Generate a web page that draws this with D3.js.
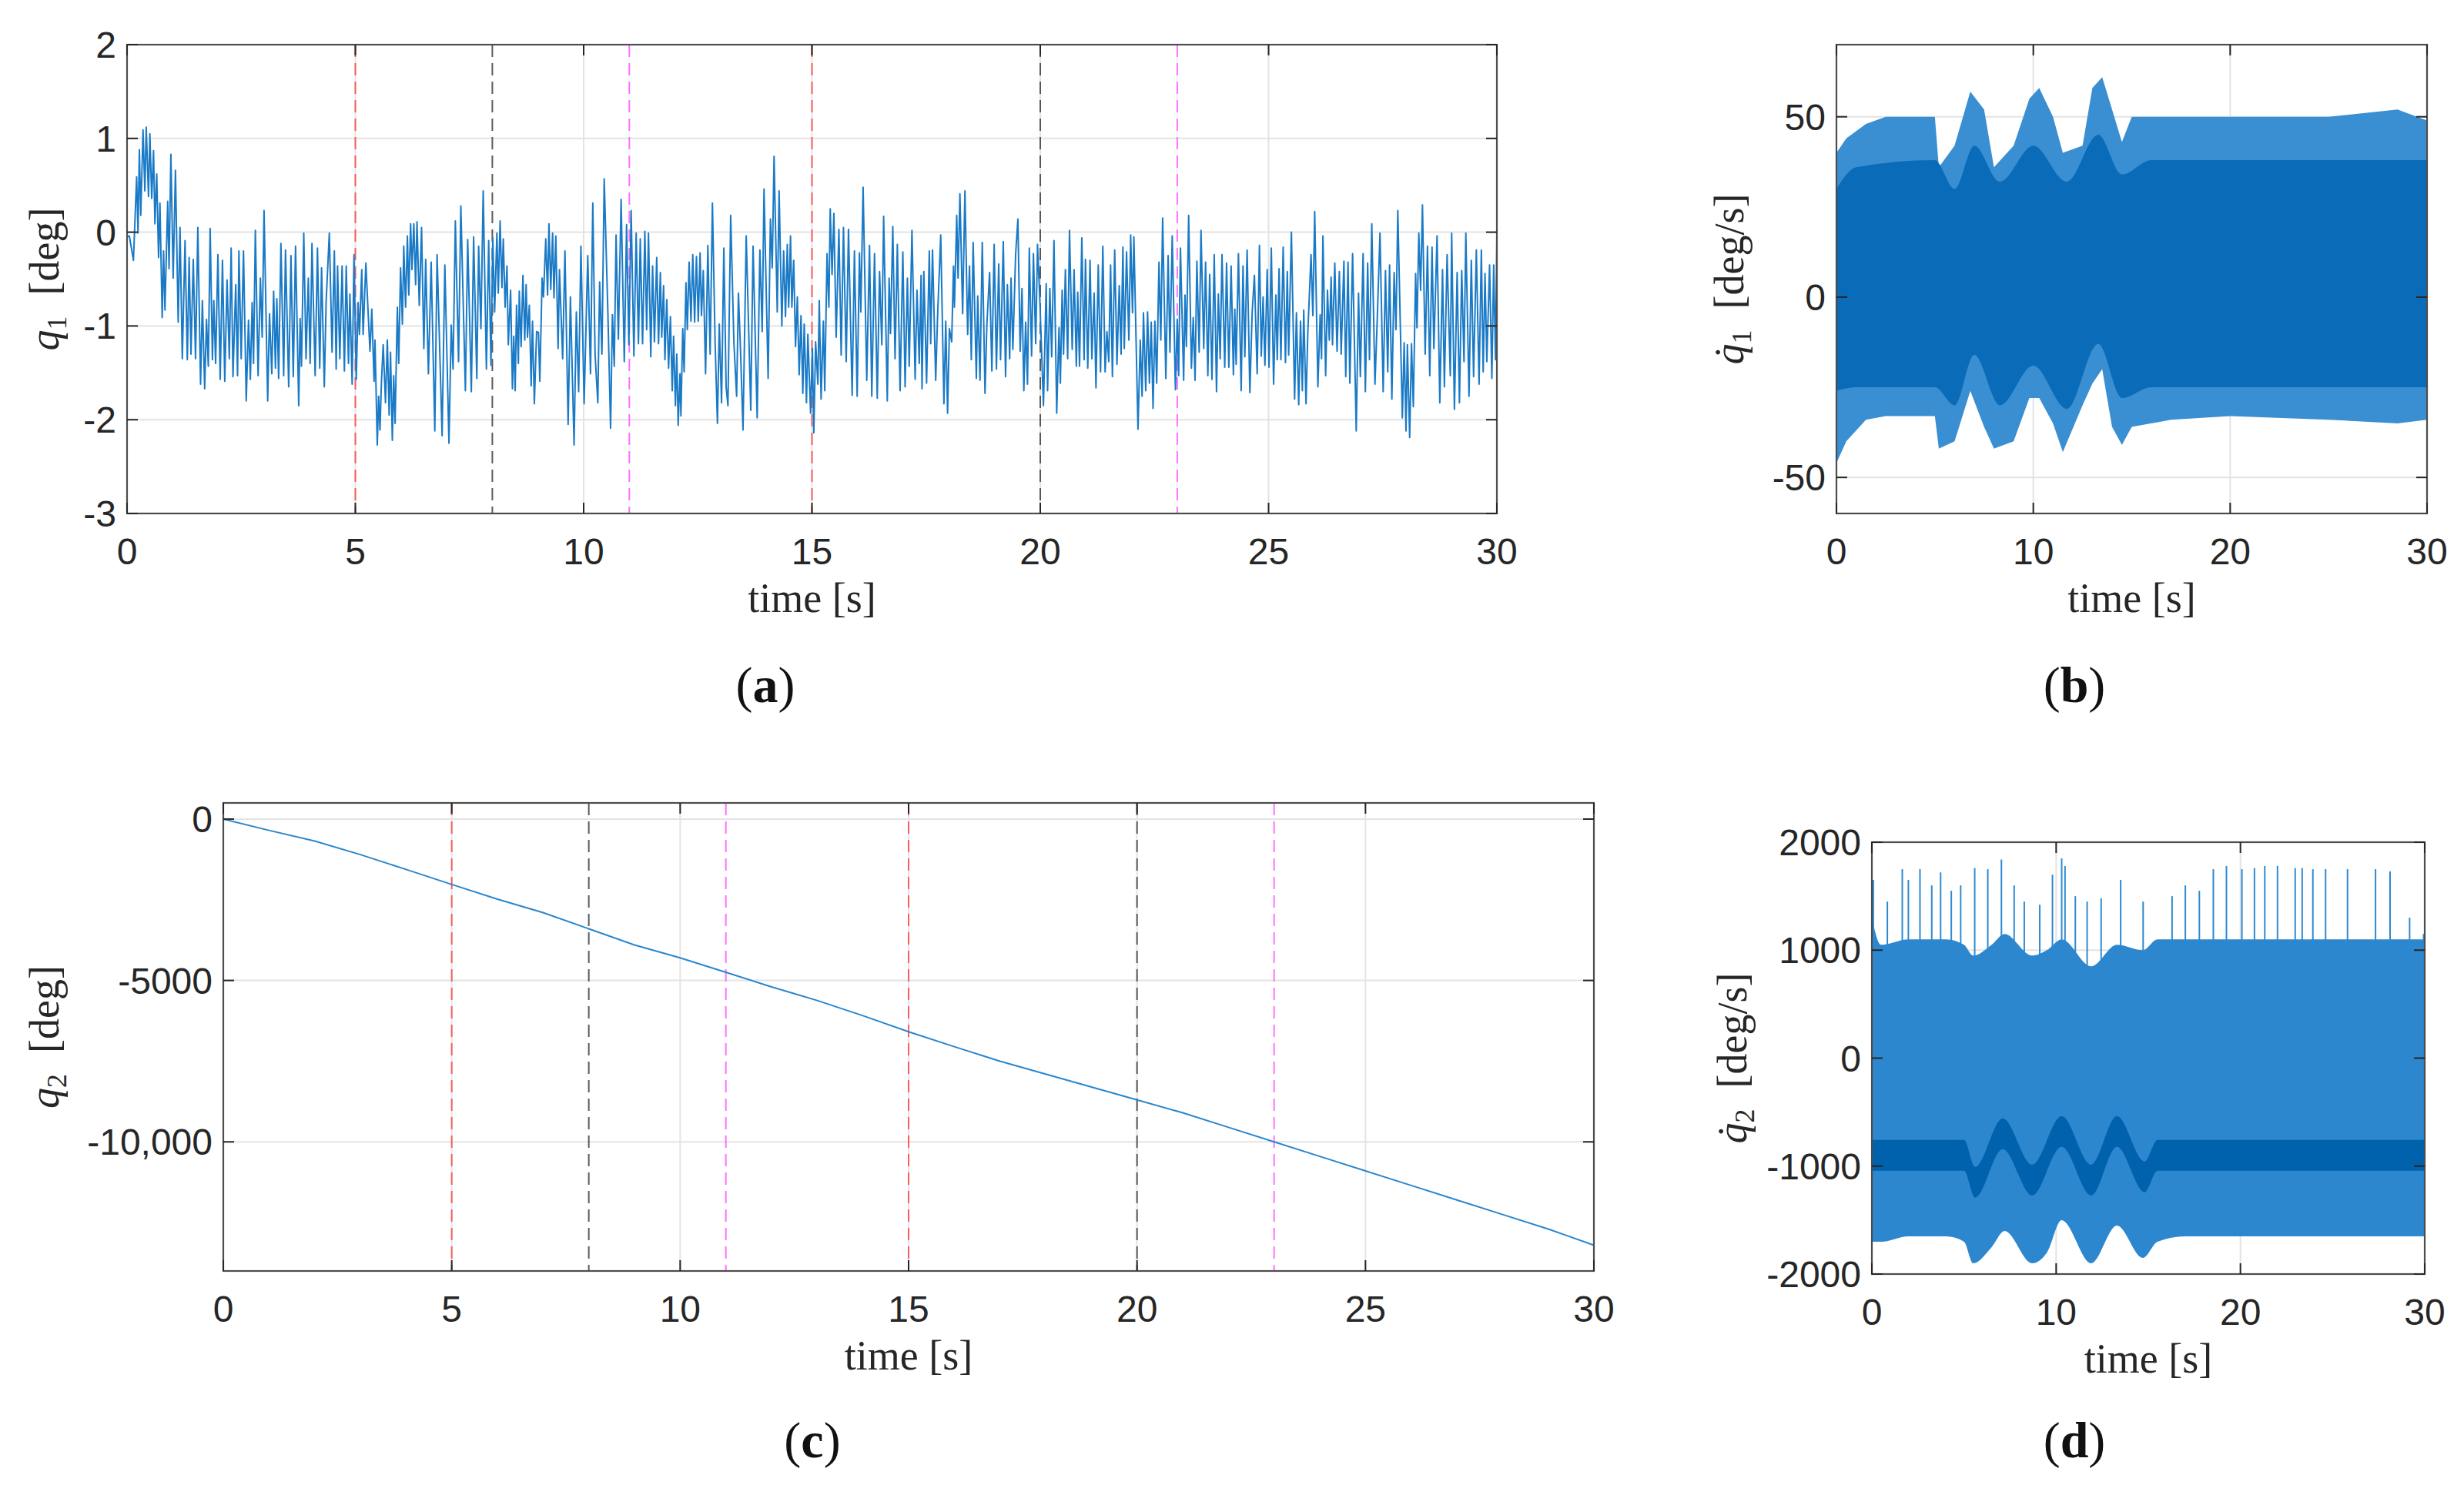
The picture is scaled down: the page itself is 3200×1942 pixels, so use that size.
<!DOCTYPE html>
<html>
<head>
<meta charset="utf-8">
<script src="https://cdn.jsdelivr.net/npm/d3@7"></script>
<style>
body { margin: 0; background: #fff; }
svg { display: block; }
</style>
</head>
<body>
<svg id="fig" width="3200" height="1942"></svg>
<script>
// joint angle q1 [deg] as [time, value] extremes
var q1Data = [
[0,-0.05],[0.05,-0.04],[0.14,-0.3],[0.21,0.59],[0.24,-0.01],[0.27,0.88],[0.30,0.18],[0.35,1.09],[0.39,0.44],[0.42,1.12],[0.47,0.38],[0.50,1.05],[0.54,0.36],[0.58,0.87],[0.61,0.09],[0.65,0.62],[0.69,-0.27],[0.72,0.31],[0.77,-0.91],[0.80,-0.2],[0.83,-0.83],[0.89,0.33],[0.92,-0.39],[0.96,0.83],[1.01,-0.49],[1.06,0.66],[1.12,-0.96],[1.16,0.05],[1.21,-1.35],[1.27,-0.09],[1.32,-1.36],[1.36,-0.27],[1.40,-1.3],[1.45,-0.29],[1.50,-1.35],[1.55,0.05],[1.61,-1.62],[1.65,-0.73],[1.70,-1.67],[1.74,-0.93],[1.78,-1.43],[1.82,0.04],[1.87,-1.36],[1.90,-0.73],[1.94,-1.4],[1.99,-0.24],[2.04,-1.57],[2.09,-0.3],[2.14,-1.59],[2.19,-0.51],[2.24,-1.35],[2.28,-0.17],[2.32,-1.54],[2.38,-0.56],[2.42,-1.53],[2.45,-0.2],[2.50,-1.35],[2.55,-0.2],[2.61,-1.8],[2.66,-0.94],[2.70,-1.57],[2.74,-0.75],[2.77,-1.4],[2.81,0.02],[2.87,-1.53],[2.92,-0.49],[2.96,-1.12],[3.00,0.23],[3.08,-1.8],[3.12,-0.87],[3.17,-1.51],[3.21,-0.63],[3.25,-1.45],[3.28,-0.71],[3.32,-1.56],[3.37,-0.12],[3.43,-1.53],[3.47,-0.19],[3.54,-1.65],[3.59,-0.25],[3.64,-1.54],[3.69,-0.15],[3.76,-1.85],[3.79,-0.92],[3.82,-1.43],[3.87,-0.01],[3.92,-1.35],[3.97,-0.49],[4.01,-1.4],[4.05,-0.12],[4.12,-1.53],[4.17,-0.17],[4.22,-1.45],[4.26,-0.38],[4.32,-1.65],[4.36,-0.74],[4.43,-0.01],[4.49,-1.28],[4.54,-0.2],[4.58,-1.46],[4.61,-0.36],[4.66,-1.35],[4.71,-0.36],[4.76,-1.48],[4.80,-0.36],[4.85,-1.4],[4.88,-0.66],[4.93,-1.62],[4.97,-0.24],[5.02,-1.57],[5.06,-0.75],[5.09,-1.09],[5.14,-0.4],[5.17,-1.09],[5.23,-0.33],[5.28,-0.86],[5.32,-1.27],[5.36,-0.82],[5.41,-1.59],[5.43,-1.15],[5.48,-2.27],[5.51,-1.75],[5.54,-2.11],[5.57,-1.61],[5.61,-1.2],[5.66,-1.82],[5.70,-1.15],[5.74,-1.95],[5.77,-1.28],[5.81,-2.22],[5.84,-1.53],[5.87,-2.04],[5.92,-0.8],[5.95,-1.4],[5.99,-0.38],[6.03,-0.98],[6.06,-0.15],[6.10,-0.8],[6.14,-0.04],[6.17,-0.67],[6.21,0.09],[6.24,-0.4],[6.28,0.09],[6.32,-0.56],[6.35,0.11],[6.40,-0.78],[6.45,0.05],[6.50,-1.24],[6.54,-0.29],[6.60,-1.51],[6.66,-0.32],[6.74,-2.12],[6.79,-0.24],[6.90,-2.17],[6.96,-0.35],[7.05,-2.25],[7.10,-0.99],[7.14,-1.46],[7.19,0.12],[7.26,-1.38],[7.31,0.28],[7.41,-1.69],[7.46,-0.08],[7.54,-1.7],[7.59,-0.05],[7.66,-1.56],[7.70,-0.15],[7.75,-1.03],[7.80,0.44],[7.87,-1.46],[7.92,-0.09],[7.97,-1.42],[8.01,-0.06],[8.05,-0.85],[8.10,-0.01],[8.13,-0.65],[8.17,0.12],[8.21,-0.59],[8.24,-0.07],[8.28,-0.8],[8.32,-0.36],[8.35,-1.2],[8.40,-0.62],[8.44,-1.67],[8.47,-1.11],[8.50,-1.69],[8.53,-0.78],[8.57,-1.4],[8.59,-0.63],[8.63,-1.22],[8.67,-0.46],[8.71,-1.15],[8.74,-0.56],[8.77,-1.12],[8.81,-0.78],[8.85,-1.64],[8.88,-0.95],[8.92,-1.83],[8.97,-1.06],[9.01,-1.07],[9.04,-1.59],[9.09,-0.49],[9.12,-0.69],[9.17,-0.07],[9.21,-0.67],[9.24,0.09],[9.28,-0.61],[9.32,-0.01],[9.35,-0.7],[9.39,-0.04],[9.44,-1.24],[9.47,-0.4],[9.54,-1.35],[9.59,-0.2],[9.66,-2.05],[9.71,-0.69],[9.79,-2.27],[9.84,-0.85],[9.89,-1.7],[9.94,-0.15],[10.01,-1.83],
[10.09,-0.25],[10.15,-1.51],[10.20,0.31],[10.25,-1.3],[10.31,-1.82],[10.35,-0.53],[10.40,-1.3],[10.45,0.57],[10.53,-0.85],[10.59,-2.09],[10.63,-0.88],[10.67,-1.43],[10.71,-0.03],[10.76,-1.14],[10.82,0.35],[10.89,-1.38],[10.94,0.08],[10.99,-1.2],[11.04,0.23],[11.10,-1.32],[11.15,-0.01],[11.20,-1.19],[11.24,-0.07],[11.29,-1.19],[11.34,0.01],[11.38,-1.04],[11.42,-0.01],[11.47,-1.33],[11.51,-0.36],[11.55,-1.17],[11.60,-0.27],[11.64,-1.19],[11.68,-0.43],[11.71,-1.12],[11.75,-0.57],[11.78,-1.36],[11.82,-0.72],[11.86,-1.45],[11.90,-0.9],[11.94,-1.69],[11.97,-1.11],[12.01,-1.85],[12.04,-1.3],[12.07,-2.06],[12.11,-1.51],[12.13,-1.96],[12.17,-1.03],[12.20,-1.49],[12.24,-0.54],[12.27,-1.04],[12.31,-0.32],[12.35,-0.95],[12.39,-0.24],[12.43,-0.96],[12.47,-0.26],[12.51,-0.95],[12.55,-0.22],[12.58,-0.89],[12.62,-0.41],[12.67,-1.51],[12.72,-0.14],[12.77,-1.3],[12.82,0.31],[12.88,-1.2],[12.93,-2.04],[12.97,-0.98],[13.02,-1.82],[13.07,-0.17],[13.12,-1.65],[13.16,-1.85],[13.22,0.18],[13.29,-1.17],[13.35,-1.75],[13.39,-0.65],[13.44,-1.33],[13.49,-2.11],[13.56,-0.04],[13.66,-1.9],[13.71,-0.15],[13.80,-1.98],[13.86,-0.19],[13.91,-1.06],[13.95,0.46],[14.04,-1.56],[14.09,0.14],[14.13,-0.38],[14.17,0.81],[14.24,-0.85],[14.28,0.44],[14.34,-1.0],[14.38,-0.2],[14.42,-0.9],[14.46,-0.13],[14.49,-0.8],[14.53,-0.04],[14.56,-0.8],[14.60,-0.3],[14.64,-1.22],[14.68,-0.69],[14.72,-1.52],[14.76,-0.89],[14.80,-1.72],[14.83,-0.98],[14.88,-1.82],[14.91,-1.09],[14.97,-1.93],[15.01,-1.24],[15.04,-2.14],[15.08,-1.17],[15.13,-1.62],[15.16,-0.73],[15.20,-1.78],[15.25,-0.95],[15.28,-1.69],[15.33,-0.23],[15.37,-0.8],[15.40,0.25],[15.44,-0.45],[15.48,0.2],[15.53,-1.12],[15.59,0.03],[15.64,-1.31],[15.69,0.05],[15.75,-1.38],[15.80,0.03],[15.88,-1.74],[15.93,-0.2],[15.99,-1.75],[16.04,-0.22],[16.07,-0.85],[16.12,0.48],[16.20,-1.58],[16.26,-0.14],[16.31,-1.75],[16.37,-0.23],[16.43,-1.77],[16.48,-0.42],[16.53,-1.2],[16.57,0.17],[16.65,-1.8],[16.69,-0.49],[16.72,-1.08],[16.77,0.06],[16.82,-1.35],[16.87,-0.13],[16.93,-1.69],[16.99,-0.21],[17.04,-1.65],[17.09,-0.49],[17.13,-1.43],[17.19,0.02],[17.26,-1.57],[17.30,-0.62],[17.35,-1.4],[17.39,-0.46],[17.41,-1.67],[17.45,-0.42],[17.51,-1.61],[17.57,-0.2],[17.60,-1.19],[17.64,-0.19],[17.71,-1.58],[17.75,-0.91],[17.82,-0.03],[17.89,-1.83],[17.93,-0.95],[17.97,-1.93],[18.01,-1.03],[18.06,-1.17],[18.10,-0.36],[18.12,-0.8],[18.17,0.18],[18.20,-0.49],[18.24,0.41],[18.30,-0.87],[18.35,0.44],[18.41,-1.09],[18.45,-0.36],[18.49,-1.36],[18.53,-0.11],[18.60,-1.56],[18.63,-0.68],[18.68,-1.58],[18.73,-0.11],[18.79,-1.72],[18.83,-0.99],[18.89,-0.43],[18.94,-1.48],[18.99,-0.13],[19.04,-1.46],[19.09,-0.34],[19.13,-1.36],[19.19,-0.1],[19.24,-1.54],[19.28,-0.56],[19.33,-1.35],[19.36,-0.49],[19.40,-1.25],[19.46,-0.24],[19.51,0.14],[19.56,-1.27],[19.60,-0.6],[19.64,-1.69],[19.68,-0.96],[19.72,-1.62],[19.76,-0.17],[19.81,-1.32],[19.85,-0.23],[19.90,-1.19],[19.94,-0.13],[19.99,-0.72],
[20.07,-1.85],[20.13,-0.55],[20.16,-1.69],[20.21,-0.6],[20.25,-1.33],[20.30,-0.09],[20.36,-1.93],[20.41,-1.02],[20.44,-1.61],[20.48,-0.62],[20.51,-1.3],[20.55,-0.4],[20.60,-1.35],[20.64,0.02],[20.70,-1.25],[20.74,-0.4],[20.79,-1.43],[20.82,-0.64],[20.86,-1.43],[20.91,-0.06],[20.96,-1.36],[20.99,-0.29],[21.04,-1.45],[21.09,-0.3],[21.13,-1.35],[21.18,-0.65],[21.22,-1.66],[21.27,-0.35],[21.32,-1.49],[21.37,-0.15],[21.42,-1.49],[21.46,-1.06],[21.50,-1.38],[21.54,-0.35],[21.58,-1.54],[21.63,-0.19],[21.68,-1.41],[21.73,-0.57],[21.77,-1.3],[21.81,-0.16],[21.84,-1.24],[21.89,-0.21],[21.94,-1.15],[21.98,-0.03],[22.02,-0.86],[22.05,-0.05],[22.14,-2.1],[22.19,-1.15],[22.23,-1.75],[22.26,-0.86],[22.31,-1.69],[22.35,-0.85],[22.39,-1.61],[22.43,-0.96],[22.47,-1.88],[22.51,-0.95],[22.55,-1.61],[22.60,-0.32],[22.64,-1.15],[22.68,0.15],[22.75,-1.56],[22.80,-0.25],[22.84,-1.28],[22.89,-0.04],[22.96,-1.68],[23.00,-0.93],[23.03,-1.53],[23.07,-0.17],[23.14,-1.58],[23.17,-0.67],[23.20,-1.22],[23.25,0.18],[23.31,-1.45],[23.35,-0.91],[23.39,-1.58],[23.43,-0.31],[23.48,-1.28],[23.52,0.02],[23.58,-1.24],[23.62,-0.32],[23.67,-1.53],[23.71,-0.45],[23.76,-1.57],[23.81,-0.24],[23.86,-1.7],[23.90,-0.66],[23.94,-1.35],[23.98,-0.24],[24.04,-1.44],[24.08,-0.33],[24.13,-1.44],[24.18,-0.36],[24.23,-1.52],[24.26,-0.82],[24.29,-1.41],[24.34,-0.23],[24.40,-1.69],[24.44,-0.36],[24.48,-1.33],[24.53,-0.19],[24.59,-1.71],[24.64,-0.86],[24.69,-0.46],[24.75,-1.51],[24.80,-0.14],[24.84,-1.32],[24.88,-0.69],[24.92,-1.42],[24.97,-0.4],[25.01,-1.44],[25.06,-0.17],[25.11,-1.62],[25.16,-0.67],[25.19,-1.36],[25.23,-0.39],[25.27,-1.36],[25.32,-0.16],[25.37,-1.39],[25.41,-0.42],[25.44,-1.31],[25.50,0],[25.57,-1.78],[25.61,-0.86],[25.66,-1.84],[25.70,-0.95],[25.74,-1.69],[25.77,-0.83],[25.82,-1.83],[25.86,-1.06],[25.93,-0.24],[25.97,-0.89],[26.01,0.22],[26.08,-1.65],[26.13,-0.88],[26.16,-1.35],[26.19,-0.04],[26.25,-1.53],[26.29,-0.62],[26.33,-1.15],[26.37,-0.48],[26.40,-1.2],[26.45,-0.33],[26.50,-1.27],[26.55,-0.42],[26.59,-1.3],[26.65,-0.31],[26.69,-1.54],[26.74,-0.32],[26.78,-1.61],[26.84,-0.23],[26.92,-2.12],[26.97,-0.65],[27.01,-1.54],[27.07,-0.23],[27.12,-1.7],[27.17,-0.33],[27.21,-1.36],[27.26,0.09],[27.33,-1.62],[27.38,-0.93],[27.44,-0.01],[27.51,-1.7],[27.56,-0.41],[27.61,-1.49],[27.65,-0.35],[27.70,-1.78],[27.75,-0.43],[27.79,-1.04],[27.83,0.23],[27.93,-1.98],[27.97,-1.18],[28.01,-2.12],[28.04,-1.2],[28.09,-2.19],[28.13,-1.19],[28.17,-1.86],[28.22,-0.44],[28.25,-1.02],[28.29,-0.01],[28.33,-0.62],[28.37,0.29],[28.43,-1.3],[28.48,-0.15],[28.53,-1.53],[28.58,-0.16],[28.62,-1.24],[28.69,-0.04],[28.75,-1.82],[28.81,-0.4],[28.85,-1.65],[28.91,-0.24],[28.98,-1.53],[29.01,-0.01],[29.07,-1.89],[29.13,-0.43],[29.18,-1.82],[29.23,-0.41],[29.28,-1.38],[29.32,-0.01],[29.39,-1.75],[29.44,-0.3],[29.49,-1.54],[29.55,-0.19],[29.61,-1.62],[29.66,-0.19],[29.70,-1.49],[29.74,-0.44],[29.78,-1.38],[29.84,-0.35],[29.89,-1.56],[29.93,-0.35],[29.97,-1.36],[30.0,-0.04]
];

// q1 rate envelope [deg/s]: outer extremes and dense core
var q1dT     = [0, 0.5, 1.5, 2.5, 5, 5.2, 6, 6.8, 7.5, 8, 9, 9.8, 10.3, 11, 11.5, 12.5, 13, 13.5, 14, 14.5, 15, 17, 20, 25, 28.5, 30];
var q1dMax   = [40, 44, 48, 50, 50, 36, 42, 57, 52, 36, 42, 55, 58, 50, 40, 42, 58, 61, 52, 43, 50, 50, 50, 50, 52, 49];
var q1dMin   = [-46, -40, -34, -33, -33, -42, -40, -26, -36, -42, -40, -28, -28, -35, -43, -30, -24, -20, -36, -41, -36, -34, -33, -34, -35, -34];
var q1dCoreT  = [0, 1, 5, 6, 7, 8.3, 10, 11.7, 13.3, 14.5, 16, 30];
var q1dCoreHi = [30, 36, 38, 30, 42, 32, 42, 32, 45, 34, 38, 38];
var q1dCoreLo = [-26, -25, -25, -30, -16, -30, -19, -31, -13, -28, -25, -25];

// joint angle q2 [deg]
var q2T = [0, 1, 2, 3, 4, 5, 6, 7, 8, 9, 10, 11, 12, 13, 14, 15, 16, 17, 18, 19, 20, 21, 22, 23, 24, 25, 26, 27, 28, 29, 30];
var q2V = [0, -350, -680, -1100, -1560, -2025, -2480, -2900, -3400, -3900, -4300, -4745, -5200, -5620, -6090, -6590, -7050, -7500, -7900, -8300, -8700, -9100, -9550, -10000, -10450, -10900, -11350, -11800, -12250, -12700, -13200];

// q2 rate [deg/s]: dense band, core band and isolated spikes
var q2dT     = [0, 0.5, 2, 4, 5, 5.5, 6.5, 7.2, 8.7, 9.5, 10.3, 11.9, 13.3, 14.7, 15.5, 17, 30];
var q2dHi    = [1300, 1050, 1100, 1100, 1050, 950, 1050, 1150, 950, 1000, 1100, 850, 1050, 1000, 1100, 1100, 1100];
var q2dLo    = [-1700, -1700, -1650, -1650, -1700, -1900, -1750, -1600, -1900, -1800, -1500, -1900, -1550, -1850, -1700, -1650, -1650];
var q2dCoreT = [0, 5, 5.6, 7.1, 8.7, 10.3, 11.9, 13.3, 14.8, 15.5, 30];
var q2dCore  = [-900, -900, -1150, -700, -1130, -680, -1130, -680, -1100, -900, -900];
var q2dSpikeT = [0.08, 0.84, 1.65, 1.98, 2.61, 3.25, 3.73, 4.31, 4.82, 5.58, 6.29, 7.03, 7.72, 8.27, 9.11, 9.80, 10.30, 10.48, 11.04, 11.68, 12.44, 13.50, 14.72, 16.29, 17.01, 17.77, 18.53, 19.24, 20.08, 20.76, 21.32, 22.01, 22.97, 23.35, 23.93, 24.62, 25.81, 27.33, 28.12, 29.18, 29.94];
var q2dSpikeV = [1650, 1450, 1750, 1650, 1750, 1600, 1720, 1550, 1600, 1760, 1750, 1840, 1600, 1450, 1420, 1700, 1850, 1780, 1500, 1450, 1480, 1650, 1450, 1500, 1600, 1550, 1750, 1780, 1750, 1760, 1780, 1780, 1760, 1760, 1750, 1750, 1750, 1750, 1730, 1300, 1150];

// event markers (dashed verticals)
var eventT = [5, 8, 11, 15, 20, 23];
var eventC = ["#ff3b3b", "#333333", "#ff4dff", "#ff3b3b", "#333333", "#ff4dff"];

var svg = d3.select("#fig");
var tickFont = "'Liberation Sans', Arial, sans-serif";
var serif = "'Liberation Serif', 'DejaVu Serif', serif";

function panel(o) {
    var x = d3.scaleLinear().domain([0, 30]).range([o.l, o.r]);
    var y = d3.scaleLinear().domain(o.yd).range([o.b, o.t]);
    var g = svg.append("g");

    // grid
    g.selectAll(".gx").data(o.xt).enter().append("line")
        .attr("x1", d => x(d)).attr("x2", d => x(d)).attr("y1", o.t).attr("y2", o.b)
        .attr("stroke", "#e3e3e3").attr("stroke-width", 2);
    g.selectAll(".gy").data(o.yt).enter().append("line")
        .attr("x1", o.l).attr("x2", o.r).attr("y1", d => y(d)).attr("y2", d => y(d))
        .attr("stroke", "#e3e3e3").attr("stroke-width", 2);

    var plot = g.append("g");

    // box + inward ticks
    var frame = g.append("g");
    frame.append("rect").attr("x", o.l).attr("y", o.t).attr("width", o.r - o.l).attr("height", o.b - o.t)
        .attr("fill", "none").attr("stroke", "#4d4d4d").attr("stroke-width", 2.2);
    var tl = 14;
    o.xt.forEach(function(d) {
        frame.append("line").attr("x1", x(d)).attr("x2", x(d)).attr("y1", o.b).attr("y2", o.b - tl).attr("stroke", "#262626").attr("stroke-width", 2);
        frame.append("line").attr("x1", x(d)).attr("x2", x(d)).attr("y1", o.t).attr("y2", o.t + tl).attr("stroke", "#262626").attr("stroke-width", 2);
        frame.append("text").attr("x", x(d)).attr("y", o.b + 66).attr("text-anchor", "middle")
            .attr("font-family", tickFont).attr("font-size", 48).attr("fill", "#262626").text(d);
    });
    o.yt.forEach(function(d, i) {
        frame.append("line").attr("x1", o.l).attr("x2", o.l + tl).attr("y1", y(d)).attr("y2", y(d)).attr("stroke", "#262626").attr("stroke-width", 2);
        frame.append("line").attr("x1", o.r).attr("x2", o.r - tl).attr("y1", y(d)).attr("y2", y(d)).attr("stroke", "#262626").attr("stroke-width", 2);
        frame.append("text").attr("x", o.l - 14).attr("y", y(d) + 17).attr("text-anchor", "end")
            .attr("font-family", tickFont).attr("font-size", 48).attr("fill", "#262626").text(o.ytl[i]);
    });

    // axis labels
    frame.append("text").attr("x", (o.l + o.r) / 2).attr("y", o.b + 128).attr("text-anchor", "middle")
        .attr("font-family", serif).attr("font-size", 54).attr("fill", "#262626").text("time [s]");
    var yl = frame.append("text").attr("transform", "translate(" + o.ylx + "," + (o.t + o.b) / 2 + ") rotate(-90)")
        .attr("text-anchor", "middle").attr("font-family", serif).attr("font-size", 54).attr("fill", "#262626");
    yl.append("tspan").attr("font-style", "italic").text(o.dot ? "q\u0307" : "q");
    yl.append("tspan").attr("font-size", 36).attr("dy", 10).text(o.sub);
    yl.append("tspan").attr("dy", -10).text("\u2002" + o.unit);

    // panel tag
    var tag = svg.append("text").attr("x", o.tagx).attr("y", o.tagy).attr("text-anchor", "middle")
        .attr("font-family", serif).attr("font-size", 66).attr("fill", "#111");
    tag.append("tspan").text("(");
    tag.append("tspan").attr("font-weight", "bold").text(o.tag);
    tag.append("tspan").text(")");

    return { x: x, y: y, plot: plot };
}

function events(p, o) {
    p.plot.selectAll(".ev").data(eventT).enter().append("line")
        .attr("x1", d => p.x(d)).attr("x2", d => p.x(d)).attr("y1", o.t).attr("y2", o.b)
        .attr("stroke", (d, i) => eventC[i]).attr("stroke-width", 2).attr("stroke-opacity", 0.8)
        .attr("stroke-dasharray", "16 8");
}

// (a) q1
var oa = { l: 165, r: 1944, t: 58, b: 667, yd: [-3, 2], xt: d3.range(0, 31, 5), yt: [-3, -2, -1, 0, 1, 2],
           ytl: ["-3", "-2", "-1", "0", "1", "2"], ylx: 76, sub: "1", unit: "[deg]", tag: "a", tagx: 994, tagy: 912 };
var pa = panel(oa);
events(pa, oa);
pa.plot.append("path").datum(q1Data)
    .attr("d", d3.line().x(d => pa.x(d[0])).y(d => pa.y(d[1])))
    .attr("fill", "none").attr("stroke", "#1a7ac6").attr("stroke-width", 2).attr("stroke-linejoin", "round");

// (b) q1 rate
var ob = { l: 2385, r: 3152, t: 58, b: 667, yd: [-60, 70], xt: [0, 10, 20, 30], yt: [-50, 0, 50],
           ytl: ["-50", "0", "50"], ylx: 2264, dot: true, sub: "1", unit: "[deg/s]", tag: "b", tagx: 2694, tagy: 912 };
var pb = panel(ob);
pb.plot.append("path").datum(d3.range(q1dT.length))
    .attr("d", d3.area().x(i => pb.x(q1dT[i])).y0(i => pb.y(q1dMin[i])).y1(i => pb.y(q1dMax[i])))
    .attr("fill", "#3a8fd2");
pb.plot.append("path").datum(d3.range(q1dCoreT.length))
    .attr("d", d3.area().x(i => pb.x(q1dCoreT[i])).y0(i => pb.y(q1dCoreLo[i])).y1(i => pb.y(q1dCoreHi[i])).curve(d3.curveMonotoneX))
    .attr("fill", "#0a6cb8");

// (c) q2
var oc = { l: 290, r: 2070, t: 1043, b: 1651, yd: [-14000, 500], xt: d3.range(0, 31, 5), yt: [-10000, -5000, 0],
           ytl: ["-10,000", "-5000", "0"], ylx: 76, sub: "2", unit: "[deg]", tag: "c", tagx: 1055, tagy: 1893 };
var pc = panel(oc);
events(pc, oc);
pc.plot.append("path").datum(d3.range(q2T.length))
    .attr("d", d3.line().x(i => pc.x(q2T[i])).y(i => pc.y(q2V[i])))
    .attr("fill", "none").attr("stroke", "#2a86cc").attr("stroke-width", 2);

// (d) q2 rate
var od = { l: 2431, r: 3149, t: 1094, b: 1655, yd: [-2000, 2000], xt: [0, 10, 20, 30], yt: [-2000, -1000, 0, 1000, 2000],
           ytl: ["-2000", "-1000", "0", "1000", "2000"], ylx: 2268, dot: true, sub: "2", unit: "[deg/s]", tag: "d", tagx: 2694, tagy: 1893 };
var pd = panel(od);
pd.plot.selectAll(".sp").data(d3.range(q2dSpikeT.length)).enter().append("line")
    .attr("x1", i => pd.x(q2dSpikeT[i])).attr("x2", i => pd.x(q2dSpikeT[i]))
    .attr("y1", i => pd.y(q2dSpikeV[i])).attr("y2", pd.y(0))
    .attr("stroke", "#2f8ad0").attr("stroke-width", 2);
pd.plot.append("path").datum(d3.range(q2dT.length))
    .attr("d", d3.area().x(i => pd.x(q2dT[i])).y0(i => pd.y(q2dLo[i])).y1(i => pd.y(q2dHi[i])).curve(d3.curveMonotoneX))
    .attr("fill", "#2c87cf");
pd.plot.append("path").datum(d3.range(q2dCoreT.length))
    .attr("d", d3.area().x(i => pd.x(q2dCoreT[i])).y0(i => pd.y(q2dCore[i]) + 20).y1(i => pd.y(q2dCore[i]) - 20).curve(d3.curveMonotoneX))
    .attr("fill", "#0062ad");
</script>
</body>
</html>
